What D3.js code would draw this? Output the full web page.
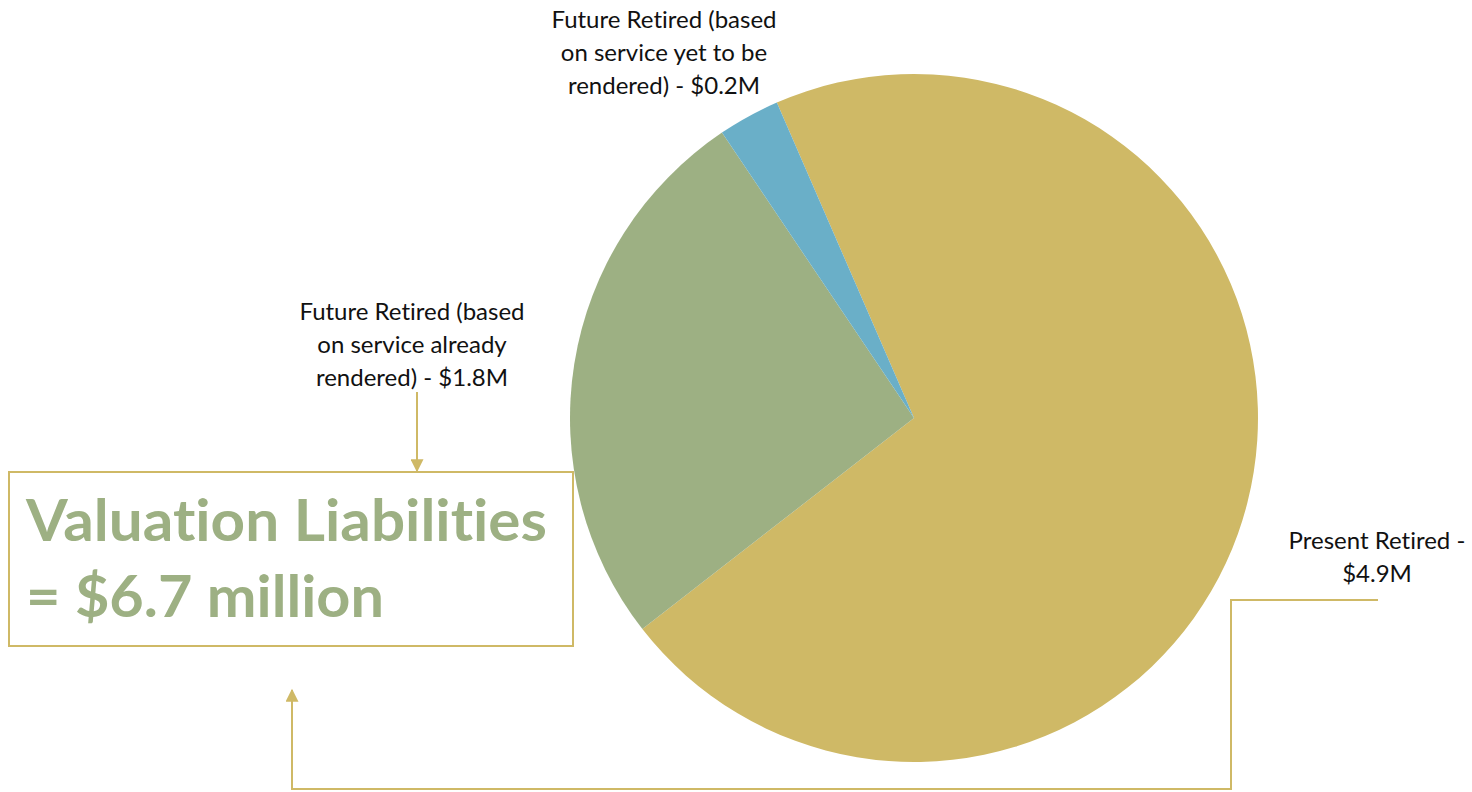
<!DOCTYPE html>
<html>
<head>
<meta charset="utf-8">
<script src="https://cdn.jsdelivr.net/npm/d3@7"></script>
<style>
  html, body { margin: 0; padding: 0; background: #fff; }
  svg { display: block; }
  text {
    font-family: Lato, "Open Sans", sans-serif;
    font-variant-ligatures: none;
    font-feature-settings: "liga" 0, "clig" 0, "dlig" 0;
  }
</style>
</head>
<body>
<div class="viz"></div>
<script>
// data
var categories = ["Present Retired", "Future Retired (based on service already rendered)", "Future Retired (based on service yet to be rendered)"];
var values = [4.9, 1.8, 0.2];
var colors = ["#cfb966", "#9db083", "#6aafc8"];
var labelLines = [
    ["Present Retired -", "$4.9M"],
    ["Future Retired (based", "on service already", "rendered) - $1.8M"],
    ["Future Retired (based", "on service yet to be", "rendered) - $0.2M"]
];
var titleLines = ["Valuation Liabilities", "= $6.7 million"];

var width = 1472,
    height = 792,
    center = [914, 418],
    radius = 344,
    gold = "#cfb966";

var svg = d3.select(".viz").append("svg")
    .attr("width", width)
    .attr("height", height);

var defs = svg.append("defs");
defs.append("marker")
    .attr("id", "arrow")
    .attr("viewBox", "0 0 10 10")
    .attr("refX", 9)
    .attr("refY", 5)
    .attr("markerUnits", "userSpaceOnUse")
    .attr("markerWidth", 15)
    .attr("markerHeight", 13)
    .attr("orient", "auto")
    .append("path")
    .attr("d", "M0,0 L10,5 L0,10 Z")
    .attr("fill", gold);

// pie, first slice starts a bit left of 12 o'clock
var pie = d3.pie()
    .sort(null)
    .startAngle(-23.5 * Math.PI / 180)
    .endAngle((360 - 23.5) * Math.PI / 180);

var arc = d3.arc()
    .innerRadius(0)
    .outerRadius(radius);

var arcs = pie(values);

svg.append("g")
    .attr("transform", "translate(" + center + ")")
    .selectAll("path")
    .data(arcs)
    .enter().append("path")
    .attr("d", arc)
    .attr("fill", function(d, i) { return colors[i]; });

// callout labels
var labelPos = [[1377, 549], [412, 320], [664, 28]];
var lineH = 33;

labelLines.forEach(function(lines, i) {
    var t = svg.append("text")
        .attr("text-anchor", "middle")
        .attr("font-size", 24)
        .attr("fill", "#111");
    lines.forEach(function(s, j) {
        t.append("tspan")
            .attr("x", labelPos[i][0])
            .attr("y", labelPos[i][1] + j * lineH)
            .text(s);
    });
});

// arrow from the green label down to the box
svg.append("line")
    .attr("x1", 417).attr("y1", 392)
    .attr("x2", 417).attr("y2", 471)
    .attr("stroke", gold)
    .attr("stroke-width", 2)
    .attr("marker-end", "url(#arrow)");

// total box
svg.append("rect")
    .attr("x", 9).attr("y", 472)
    .attr("width", 564).attr("height", 174)
    .attr("fill", "none")
    .attr("stroke", gold)
    .attr("stroke-width", 2);

var titleY = [541, 617];
var titleW = [521, 358];
titleLines.forEach(function(s, j) {
    svg.append("text")
        .attr("x", 26)
        .attr("y", titleY[j])
        .attr("font-size", 58)
        .attr("font-weight", "bold")
        .attr("fill", "#9db083")
        .attr("textLength", titleW[j])
        .attr("lengthAdjust", "spacingAndGlyphs")
        .text(s);
});

// connector from the gold label round to the box
svg.append("path")
    .attr("d", d3.line()([[1378, 600], [1231, 600], [1231, 789], [292, 789], [292, 690]]))
    .attr("fill", "none")
    .attr("stroke", gold)
    .attr("stroke-width", 2)
    .attr("marker-end", "url(#arrow)");
</script>
</body>
</html>
